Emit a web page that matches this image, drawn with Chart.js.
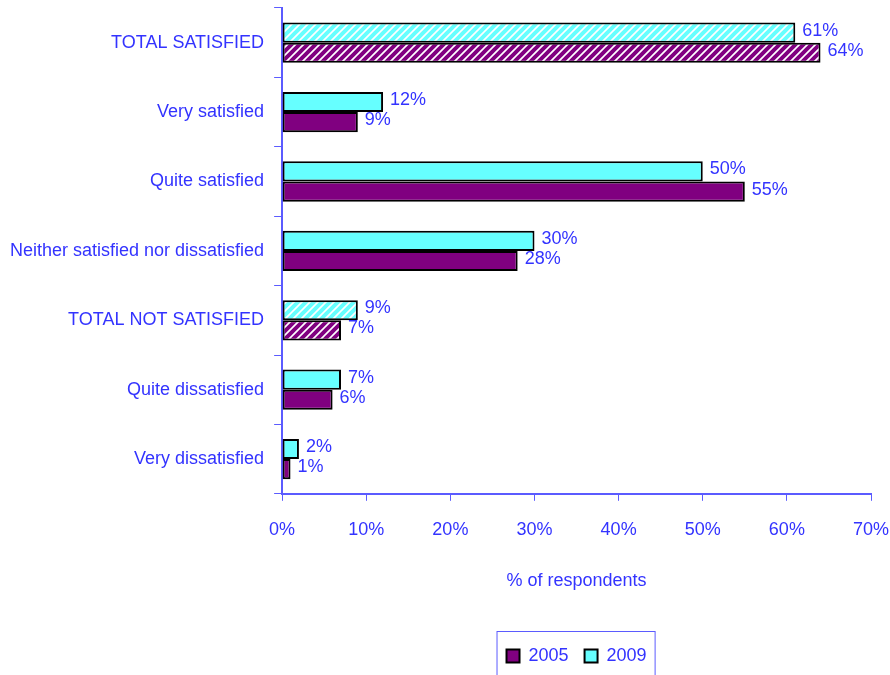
<!DOCTYPE html>
<html>
<head>
<meta charset="utf-8">
<script src="https://cdn.jsdelivr.net/npm/chart.js@4/dist/chart.umd.min.js"></script>
<style>
	html, body { margin: 0; padding: 0; background: #fff; }
	#wrap { width: 890px; height: 675px; }
</style>
</head>
<body>
<div id="wrap"><canvas id="satisfaction"></canvas></div>
<script>
const categories = [
	"TOTAL SATISFIED",
	"Very satisfied",
	"Quite satisfied",
	"Neither satisfied nor dissatisfied",
	"TOTAL NOT SATISFIED",
	"Quite dissatisfied",
	"Very dissatisfied",
];
const values2009 = [61, 12, 50, 30, 9, 7, 2];
const values2005 = [64, 9, 55, 28, 7, 6, 1];
const hatchedRows = [0, 4];
const xTicks = [0, 10, 20, 30, 40, 50, 60, 70];

const FONT = "'Liberation Sans Narrow', 'Arial Narrow', 'Liberation Sans', sans-serif";
const TEXT = "#3333FF";
const AXIS = "#5B5BFF";
const CYAN = "#66FFFF";
const PURPLE = "#800080";

function stripes(color) {
	const c = document.createElement("canvas");
	c.width = 8;
	c.height = 8;
	const g = c.getContext("2d");
	g.fillStyle = "#fff";
	g.fillRect(0, 0, 8, 8);
	g.strokeStyle = color;
	g.lineWidth = 4;
	g.beginPath();
	g.moveTo(-2, 10); g.lineTo(10, -2);
	g.moveTo(-6, 6); g.lineTo(6, -6);
	g.moveTo(2, 14); g.lineTo(14, 2);
	g.stroke();
	return g.createPattern(c, "repeat");
}

const cyanHatch = stripes(CYAN);
const purpleHatch = stripes(PURPLE);

const fills2009 = categories.map((c, i) => hatchedRows.includes(i) ? cyanHatch : CYAN);
const fills2005 = categories.map((c, i) => hatchedRows.includes(i) ? purpleHatch : PURPLE);

// value labels just past the end of each bar
const valueLabels = {
	id: "valueLabels",
	afterDatasetsDraw(chart) {
		const ctx = chart.ctx;
		ctx.save();
		ctx.font = "18px " + FONT;
		ctx.fillStyle = TEXT;
		ctx.textAlign = "left";
		ctx.textBaseline = "middle";
		chart.data.datasets.forEach((ds, di) => {
			chart.getDatasetMeta(di).data.forEach((bar, i) => {
				ctx.fillText(ds.data[i] + "%", bar.x + 7, bar.y - 2);
			});
		});
		ctx.restore();
	},
};

const legendBorder = {
	id: "legendBorder",
	afterDraw(chart) {
		const lg = chart.legend;
		const ctx = chart.ctx;
		let w = 0;
		lg.legendHitBoxes.forEach((b) => { w = Math.max(w, b.left + b.width); });
		const left = lg.legendHitBoxes[0].left - 10;
		ctx.save();
		ctx.strokeStyle = AXIS;
		ctx.lineWidth = 1;
		ctx.strokeRect(left + 0.5, lg.top + 0.5, w - left + 8, 60);
		ctx.restore();
	},
};

new Chart(document.getElementById("satisfaction"), {
	type: "bar",
	data: {
		labels: categories,
		datasets: [
			{
				label: "2009",
				data: values2009,
				backgroundColor: fills2009,
				borderColor: "#000",
				borderWidth: 2,
				borderSkipped: false,
				categoryPercentage: 0.58,
				barPercentage: 1,
			},
			{
				label: "2005",
				data: values2005,
				backgroundColor: fills2005,
				borderColor: "#000",
				borderWidth: 2,
				borderSkipped: false,
				categoryPercentage: 0.58,
				barPercentage: 1,
			},
		],
	},
	options: {
		indexAxis: "y",
		responsive: true,
		maintainAspectRatio: false,
		animation: false,
		layout: {
			padding: { top: 8, right: 19, bottom: 0, left: 0 },
		},
		scales: {
			x: {
				min: 0,
				max: 70,
				border: { display: true, color: AXIS, width: 2 },
				grid: { drawOnChartArea: false, drawTicks: true, tickLength: 7, color: AXIS, lineWidth: 1 },
				afterBuildTicks: (axis) => { axis.ticks = xTicks.map((v) => ({ value: v })); },
				afterFit: (axis) => { axis.paddingRight = 0; },
				ticks: {
					color: TEXT,
					padding: 18,
					font: { family: FONT, size: 18 },
					callback: (v) => v + "%",
				},
				title: {
					display: true,
					text: "% of respondents",
					color: TEXT,
					font: { family: FONT, size: 18 },
					padding: { top: 12, bottom: 39 },
				},
			},
			y: {
				border: { display: true, color: AXIS, width: 2 },
				grid: { drawOnChartArea: false, drawTicks: true, tickLength: 8, color: AXIS, lineWidth: 1, offset: true },
				afterFit: (axis) => { axis.paddingTop = 0; axis.paddingBottom = 0; },
				ticks: {
					color: TEXT,
					padding: 10,
					font: { family: FONT, size: 18 },
				},
			},
		},
		plugins: {
			legend: {
				display: true,
				position: "bottom",
				fullSize: false,
				reverse: true,
				labels: {
					color: TEXT,
					font: { family: FONT, size: 18 },
					boxWidth: 13,
					boxHeight: 13,
					padding: 16,
					useBorderRadius: false,
					generateLabels: (chart) => chart.data.datasets.map((ds, i) => ({
						text: ds.label,
						fillStyle: i === 0 ? CYAN : PURPLE,
						strokeStyle: "#000",
						lineWidth: 2,
						fontColor: TEXT,
						datasetIndex: i,
						hidden: false,
					})),
				},
			},
			tooltip: { enabled: false },
		},
	},
	plugins: [valueLabels, legendBorder],
});
</script>
</body>
</html>
